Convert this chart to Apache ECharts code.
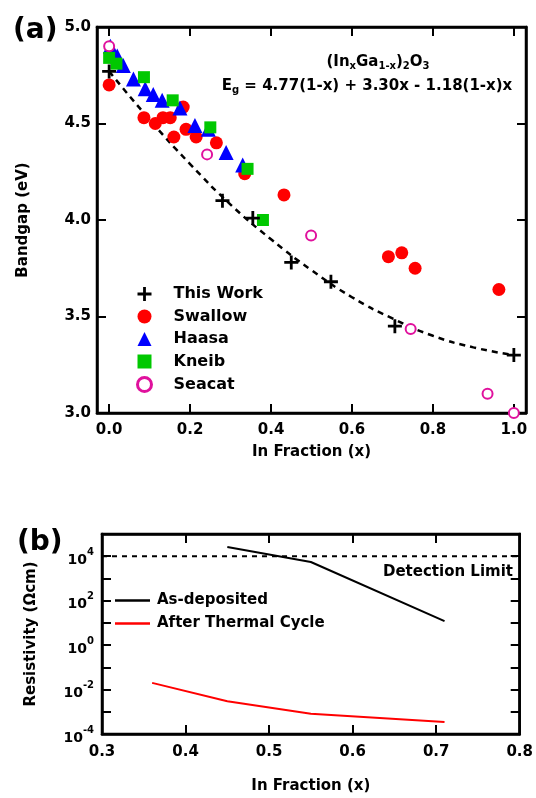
<!DOCTYPE html>
<html>
<head>
<meta charset="utf-8">
<script src="https://cdn.jsdelivr.net/npm/echarts@6/dist/echarts.min.js"></script>
<style>
  html, body { margin: 0; padding: 0; background: #fff; }
  #chart { width: 536px; height: 798px; }
</style>
</head>
<body>
<div id="chart"></div>
<script>
// (a) bandgap vs In fraction
const fitX = [0, 0.1, 0.2, 0.3, 0.4, 0.5, 0.6, 0.7, 0.8, 0.9, 1.0]
const fitEg = [4.77, 4.52, 4.29, 4.08, 3.90, 3.74, 3.60, 3.49, 3.40, 3.34, 3.30]

const thisWorkX = [0.0, 0.28, 0.355, 0.45, 0.548, 0.706, 1.0]
const thisWorkEg = [4.77, 4.10, 4.01, 3.78, 3.68, 3.45, 3.30]

const swallowX = [0.0, 0.086, 0.114, 0.133, 0.151, 0.160, 0.183, 0.19, 0.215, 0.265, 0.335, 0.432, 0.69, 0.723, 0.756, 0.963]
const swallowEg = [4.70, 4.53, 4.50, 4.53, 4.53, 4.43, 4.585, 4.47, 4.43, 4.40, 4.24, 4.13, 3.81, 3.83, 3.75, 3.64]

const haasaX = [0.003, 0.02, 0.035, 0.06, 0.089, 0.109, 0.131, 0.175, 0.212, 0.245, 0.289, 0.33]
const haasaEg = [4.90, 4.85, 4.80, 4.73, 4.68, 4.65, 4.62, 4.58, 4.49, 4.47, 4.35, 4.285]

const kneibX = [0.0, 0.018, 0.086, 0.157, 0.25, 0.342, 0.38]
const kneibEg = [4.84, 4.81, 4.74, 4.62, 4.48, 4.265, 4.00]

const seacatX = [0.0, 0.242, 0.499, 0.745, 0.935, 1.0]
const seacatEg = [4.90, 4.34, 3.92, 3.435, 3.10, 3.00]

const topXTicks = [0, 0.2, 0.4, 0.6, 0.8, 1.0]

// (b) resistivity vs In fraction
const resX = [0.45, 0.55, 0.71]
const asDeposited = [2.6e4, 5.5e3, 12]
const afterX = [0.36, 0.45, 0.55, 0.71]
const afterCycle = [0.020, 0.0030, 0.00081, 0.00035]
const limitX = [0.3, 0.8]
const limitVal = [1e4, 1e4]

const botXTicks = [0.3, 0.4, 0.5, 0.6, 0.7, 0.8]

const zip = (xs, ys) => xs.map((x, i) => [x, ys[i]])

const FONT = 'DejaVu Sans'
const plusPath = 'path://M0,4 L4,4 L4,0 L6,0 L6,4 L10,4 L10,6 L6,6 L6,10 L4,10 L4,6 L0,6 Z'

const lblStyle = { fontFamily: FONT, fontWeight: 'bold', fontSize: 15, color: '#000' }
const axLine = { show: true, onZero: false, lineStyle: { color: '#000', width: 2.5 } }
const tick = (vals) => ({ show: true, inside: true, length: 9, lineStyle: { color: '#000', width: 2 }, customValues: vals })
const yTick = { show: true, inside: true, length: 9, lineStyle: { color: '#000', width: 2 } }

const chart = echarts.init(document.getElementById('chart'))

const option = {
  animation: false,
  backgroundColor: '#fff',
  grid: [
    { left: 97, top: 27, width: 429, height: 386, show: true, borderColor: '#000', borderWidth: 2.5 },
    { left: 102, top: 534, width: 424, height: 200, show: true, borderColor: '#000', borderWidth: 2.5 }
  ],
  xAxis: [
    {
      gridIndex: 0, type: 'value', min: -0.03, max: 1.03, position: 'bottom',
      name: 'In Fraction (x)', nameLocation: 'middle', nameGap: 32,
      nameTextStyle: lblStyle,
      axisLine: axLine, axisTick: tick(topXTicks), splitLine: { show: false },
      axisLabel: Object.assign({ margin: 10, customValues: topXTicks, formatter: v => v.toFixed(1) }, lblStyle)
    },
    {
      gridIndex: 0, type: 'value', min: -0.03, max: 1.03, position: 'top',
      axisLine: axLine, axisTick: tick(topXTicks), splitLine: { show: false }, axisLabel: { show: false }
    },
    {
      gridIndex: 1, type: 'value', min: 0.3, max: 0.8, position: 'bottom',
      name: 'In Fraction (x)', nameLocation: 'middle', nameGap: 45,
      nameTextStyle: lblStyle,
      axisLine: axLine, axisTick: tick(botXTicks), splitLine: { show: false },
      axisLabel: Object.assign({ margin: 11, customValues: botXTicks, formatter: v => v.toFixed(1) }, lblStyle)
    },
    {
      gridIndex: 1, type: 'value', min: 0.3, max: 0.8, position: 'top',
      axisLine: axLine, axisTick: tick(botXTicks), splitLine: { show: false }, axisLabel: { show: false }
    }
  ],
  yAxis: [
    {
      gridIndex: 0, type: 'value', min: 3, max: 5, interval: 0.5, position: 'left',
      name: 'Bandgap (eV)', nameLocation: 'middle', nameGap: 66,
      nameTextStyle: lblStyle,
      axisLine: axLine, axisTick: yTick, splitLine: { show: false },
      axisLabel: Object.assign({ margin: 6, formatter: v => v.toFixed(1) }, lblStyle)
    },
    {
      gridIndex: 0, type: 'value', min: 3, max: 5, interval: 0.5, position: 'right',
      axisLine: axLine, axisTick: yTick, splitLine: { show: false }, axisLabel: { show: false }
    },
    {
      gridIndex: 1, type: 'log', logBase: 10, min: 1e-4, max: 1e5, interval: 1, position: 'left',
      name: 'Resistivity (Ωcm)', nameLocation: 'middle', nameGap: 63,
      nameTextStyle: lblStyle,
      axisLine: axLine, axisTick: yTick, splitLine: { show: false }, minorTick: { show: false },
      axisLabel: {
        margin: 8,
        formatter: v => {
          const e = Math.round(Math.log10(v))
          if (e % 2 !== 0) return ''
          return '{b|10}{s|' + e + '}'
        },
        rich: {
          b: { fontFamily: FONT, fontWeight: 'bold', fontSize: 14, color: '#000', padding: [8, 0, 0, 0] },
          s: { fontFamily: FONT, fontWeight: 'bold', fontSize: 10, color: '#000', padding: [0, 0, 8, 0] }
        }
      }
    },
    {
      gridIndex: 1, type: 'log', logBase: 10, min: 1e-4, max: 1e5, interval: 1, position: 'right',
      axisLine: axLine, axisTick: yTick, splitLine: { show: false }, axisLabel: { show: false }
    }
  ],
  legend: [
    {
      orient: 'vertical', left: 136, top: 286, padding: 0, itemGap: 6.5,
      itemWidth: 14, itemHeight: 14,
      textStyle: { fontFamily: FONT, fontWeight: 'bold', fontSize: 16, color: '#000', padding: [0, 0, 0, 17] },
      data: [
        'This Work', 'Swallow', 'Haasa', 'Kneib',
        { name: 'Seacat', icon: 'circle', itemStyle: { color: '#fff', borderColor: '#e0119d', borderWidth: 3 } }
      ]
    },
    {
      orient: 'vertical', left: 115, top: 593, padding: 0, itemGap: 8,
      itemWidth: 35, itemHeight: 2.5,
      textStyle: { fontFamily: FONT, fontWeight: 'bold', fontSize: 15, color: '#000', padding: [0, 0, 0, 2] },
      data: [{ name: 'As-deposited', icon: 'rect' }, { name: 'After Thermal Cycle', icon: 'rect' }]
    }
  ],
  graphic: [
    { type: 'text', left: 13, top: 17, style: { text: '(a)', font: 'bold 28px "DejaVu Sans"', fill: '#000' } },
    { type: 'text', left: 17, top: 529, style: { text: '(b)', font: 'bold 28px "DejaVu Sans"', fill: '#000' } },
    {
      type: 'text', x: 378, y: 62,
      style: {
        text: '{t|(In}{sub|x}{t|Ga}{sub|1-x}{t|)}{sub|2}{t|O}{sub|3}',
        align: 'center', verticalAlign: 'middle',
        rich: {
          t: { fontFamily: FONT, fontWeight: 'bold', fontSize: 15, fill: '#000' },
          sub: { fontFamily: FONT, fontWeight: 'bold', fontSize: 10, fill: '#000', padding: [8, 0, 0, 0] }
        }
      }
    },
    {
      type: 'text', x: 367, y: 86,
      style: {
        text: '{t|E}{sub|g}{t| = 4.77(1-x) + 3.30x - 1.18(1-x)x}',
        align: 'center', verticalAlign: 'middle',
        rich: {
          t: { fontFamily: FONT, fontWeight: 'bold', fontSize: 15, fill: '#000' },
          sub: { fontFamily: FONT, fontWeight: 'bold', fontSize: 10, fill: '#000', padding: [8, 0, 0, 0] }
        }
      }
    },
    {
      type: 'text', x: 513, y: 572,
      style: { text: 'Detection Limit', align: 'right', verticalAlign: 'middle', font: 'bold 15px "DejaVu Sans"', fill: '#000' }
    }
  ],
  series: [
    {
      name: 'fit', type: 'line', xAxisIndex: 0, yAxisIndex: 0, smooth: true, showSymbol: false, symbol: 'none',
      lineStyle: { color: '#000', width: 2.5, type: [6, 5] }, data: zip(fitX, fitEg), z: 1
    },
    {
      name: 'Swallow', type: 'scatter', xAxisIndex: 0, yAxisIndex: 0, symbol: 'circle', symbolSize: 13,
      itemStyle: { color: '#ff0000', opacity: 1 }, data: zip(swallowX, swallowEg), z: 2
    },
    {
      name: 'Haasa', type: 'scatter', xAxisIndex: 0, yAxisIndex: 0, symbol: 'triangle', symbolSize: 15,
      itemStyle: { color: '#0000ff', opacity: 1 }, data: zip(haasaX, haasaEg), z: 3
    },
    {
      name: 'Kneib', type: 'scatter', xAxisIndex: 0, yAxisIndex: 0, symbol: 'rect', symbolSize: 12,
      itemStyle: { color: '#00c800', opacity: 1 }, data: zip(kneibX, kneibEg), z: 4
    },
    {
      name: 'Seacat', type: 'scatter', xAxisIndex: 0, yAxisIndex: 0, symbol: 'emptyCircle', symbolSize: 10,
      itemStyle: { color: '#e0119d', borderWidth: 2.5, opacity: 1 }, data: zip(seacatX, seacatEg), z: 5
    },
    {
      name: 'This Work', type: 'scatter', xAxisIndex: 0, yAxisIndex: 0, symbol: plusPath, symbolSize: 14,
      itemStyle: { color: '#000', opacity: 1 }, data: zip(thisWorkX, thisWorkEg), z: 6
    },
    {
      name: 'limit', type: 'line', xAxisIndex: 2, yAxisIndex: 2, symbol: 'none',
      lineStyle: { color: '#000', width: 2, type: [5, 5] }, data: zip(limitX, limitVal)
    },
    {
      name: 'As-deposited', type: 'line', xAxisIndex: 2, yAxisIndex: 2, symbol: 'none', color: '#000',
      lineStyle: { color: '#000', width: 2 }, data: zip(resX, asDeposited)
    },
    {
      name: 'After Thermal Cycle', type: 'line', xAxisIndex: 2, yAxisIndex: 2, symbol: 'none', color: '#ff0000',
      lineStyle: { color: '#ff0000', width: 2 }, data: zip(afterX, afterCycle)
    }
  ]
}

chart.setOption(option)
</script>
</body>
</html>
